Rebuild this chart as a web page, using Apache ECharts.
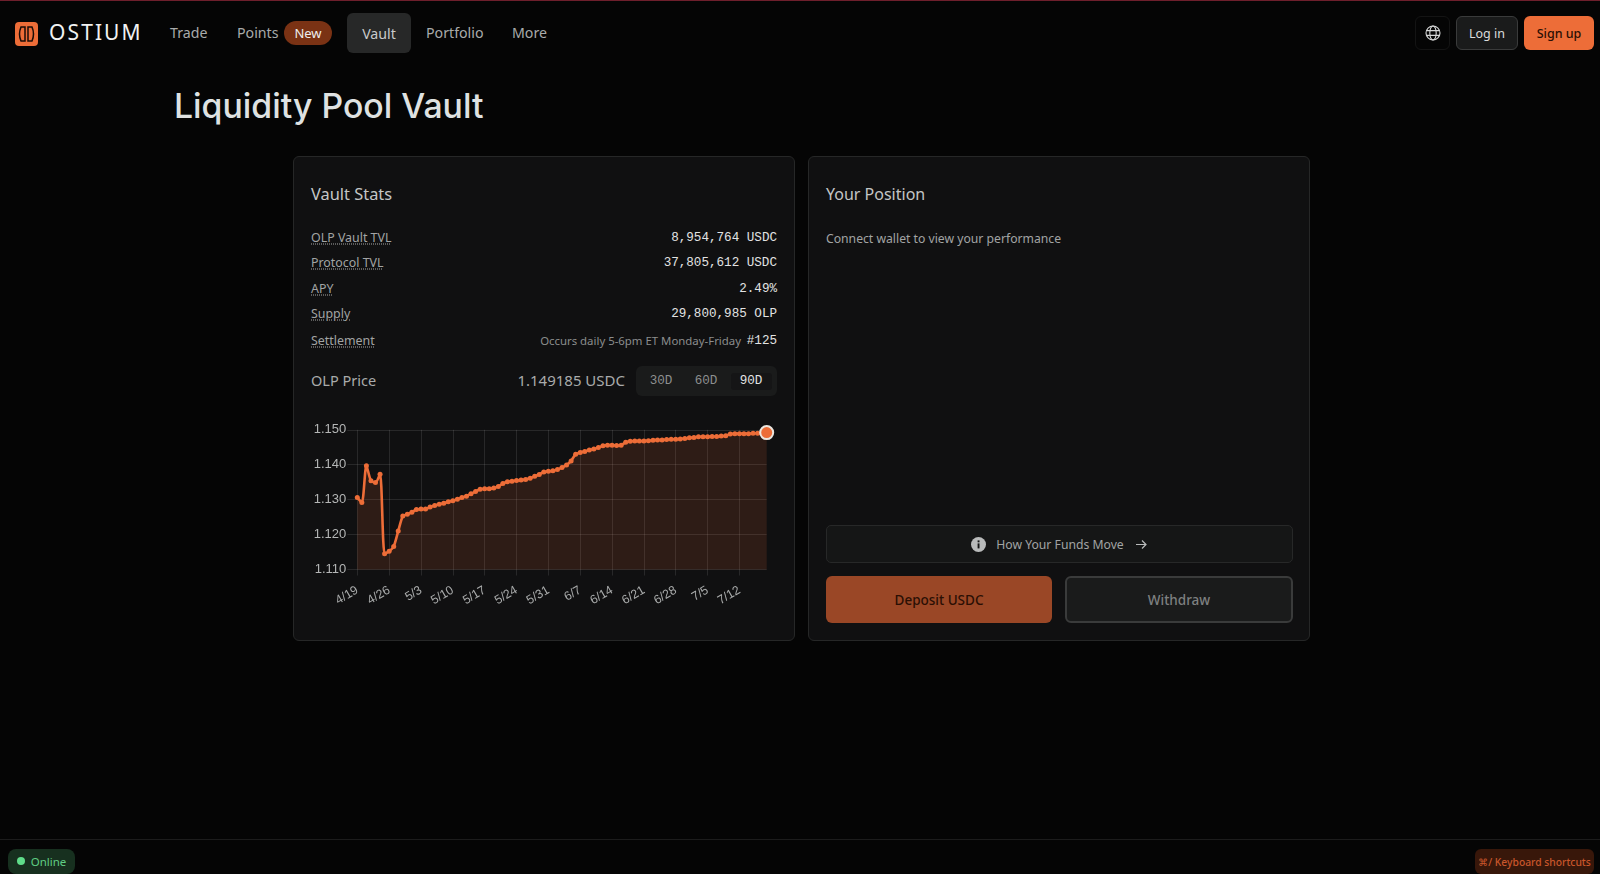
<!DOCTYPE html>
<html>
<head>
<meta charset="utf-8">
<title>Liquidity Pool Vault</title>
<script src="https://cdn.jsdelivr.net/npm/echarts@6/dist/echarts.min.js"></script>
<style>
html, body { margin: 0; padding: 0; background: #050505; width: 1600px; height: 874px; overflow: hidden; font-family: "Noto Sans", sans-serif; color: #c4c6c6; }
.abs { position: absolute; white-space: nowrap; }
.mid { transform: translateY(-50%); }
.box { position: absolute; box-sizing: border-box; display: flex; align-items: center; justify-content: center; white-space: nowrap; }
.card { position: absolute; box-sizing: border-box; top: 156px; width: 502px; height: 485px; background: #101011; border: 1px solid #262727; border-radius: 6px; }
.nav { font-size: 14.2px; color: #a9abab; top: 32px; }
.lbl { left: 311px; font-size: 12.4px; color: #a2a4a4; text-decoration: underline dotted #8a8a8a; text-underline-offset: 2px; }
.mono { right: 823px; font-family: "Liberation Mono", monospace; font-size: 12.6px; color: #e2e3e3; }
.tog { font-family: "Liberation Mono", monospace; font-size: 12.6px; color: #8d8f8f; }
#main { position: absolute; left: 293px; top: 410px; width: 502px; height: 225px; }
</style>
</head>
<body>
<div class="abs" style="left:0;top:0;width:1600px;height:1px;background:#6e1f2c"></div>

<svg class="abs" style="left:15px;top:22px" width="23" height="24" viewBox="0 0 23 24">
  <rect width="23" height="24" rx="4" fill="#ed6d38"/>
  <path d="M6 5 h4 v14 h-4 q-3 -7 0 -14z M17 5 h-4 v14 h4 q3 -7 0 -14z" fill="none" stroke="#1a0d07" stroke-width="1.5"/>
</svg>
<div class="abs mid" style="left:49px;top:32px;font-size:21px;letter-spacing:2.1px;color:#f1f2f2">OSTIUM</div>

<div class="abs mid nav" style="left:170px">Trade</div>
<div class="abs mid nav" style="left:237px">Points</div>
<div class="box" style="left:284px;top:21px;width:48px;height:24px;border-radius:12px;background:#7a3214;color:#eeeeee;font-size:13px">New</div>
<div class="box" style="left:347px;top:13px;width:64px;height:40px;border-radius:6px;background:#272828;color:#c9caca;font-size:14.2px">Vault</div>
<div class="abs mid nav" style="left:426px">Portfolio</div>
<div class="abs mid nav" style="left:512px">More</div>

<div class="box" style="left:1415px;top:16px;width:35px;height:34px;border:1px solid #141414;border-radius:6px">
  <svg width="16" height="16" viewBox="0 0 16 16" fill="none" stroke="#d5d6d6" stroke-width="1.1"><circle cx="8" cy="8" r="7"/><ellipse cx="8" cy="8" rx="3.2" ry="7"/><path d="M1.4 5.6h13.2M1.4 10.4h13.2"/></svg>
</div>
<div class="box" style="left:1456px;top:16px;width:62px;height:34px;border:1px solid #3a3b3b;border-radius:6px;background:#1a1b1b;color:#dcdddd;font-size:12.5px">Log in</div>
<div class="box" style="left:1524px;top:16px;width:70px;height:34px;border-radius:6px;background:#ed6d38;color:#2a0f04;font-size:12.5px;font-weight:500">Sign up</div>

<div class="abs mid" style="left:174px;top:105px;font-family:Inter,sans-serif;font-weight:500;font-size:33.8px;color:#dfe2e2">Liquidity Pool Vault</div>

<div class="card" style="left:293px"></div>
<div class="card" style="left:808px"></div>

<div class="abs mid" style="left:311px;top:193px;font-size:16.4px;color:#c4c6c6">Vault Stats</div>
<div class="abs mid lbl" style="top:237px">OLP Vault TVL</div>
<div class="abs mid lbl" style="top:262px">Protocol TVL</div>
<div class="abs mid lbl" style="top:288px">APY</div>
<div class="abs mid lbl" style="top:313px">Supply</div>
<div class="abs mid lbl" style="top:340px">Settlement</div>
<div class="abs mid mono" style="top:238px">8,954,764 USDC</div>
<div class="abs mid mono" style="top:263px">37,805,612 USDC</div>
<div class="abs mid mono" style="top:289px">2.49%</div>
<div class="abs mid mono" style="top:314px">29,800,985 OLP</div>
<div class="abs mid mono" style="top:341px">#125</div>
<div class="abs mid" style="right:859px;top:340px;font-size:11.4px;color:#8b8d8d">Occurs daily 5-6pm ET Monday-Friday</div>

<div class="abs mid" style="left:311px;top:380px;font-size:14.5px;color:#a9abab">OLP Price</div>
<div class="abs mid" style="right:975px;top:380px;font-size:15px;color:#a9abab">1.149185 USDC</div>
<div class="abs" style="left:636px;top:366px;width:141px;height:30px;border-radius:6px;background:#1a1b1b"></div>
<div class="abs" style="left:731px;top:373px;width:41px;height:17px;border-radius:3px;background:#151516"></div>
<div class="box tog" style="left:641px;top:366px;width:40px;height:30px">30D</div>
<div class="box tog" style="left:686px;top:366px;width:40px;height:30px">60D</div>
<div class="box tog" style="left:731px;top:366px;width:40px;height:30px;color:#e2e3e3">90D</div>

<div id="main"></div>

<div class="abs mid" style="left:826px;top:194px;font-size:16px;color:#c4c6c6">Your Position</div>
<div class="abs mid" style="left:826px;top:238px;font-size:12.2px;color:#a2a4a4">Connect wallet to view your performance</div>

<div class="box" style="left:826px;top:525px;width:467px;height:38px;border:1px solid #272828;border-radius:5px;background:#151616;color:#a2a4a4;font-size:12.2px">
  <svg width="15" height="15" viewBox="0 0 15 15" style="margin-right:10px"><circle cx="7.5" cy="7.5" r="7.5" fill="#b9bbbb"/><rect x="6.6" y="6.4" width="1.9" height="5" fill="#151616"/><rect x="6.6" y="3.4" width="1.9" height="1.9" fill="#151616"/></svg>
  How Your Funds Move
  <svg width="13" height="11" viewBox="0 0 13 11" style="margin-left:11px" fill="none" stroke="#b9bbbb" stroke-width="1.2"><path d="M1 5.5h10M7 1.5l4 4-4 4"/></svg>
</div>
<div class="box" style="left:826px;top:576px;width:226px;height:47px;border-radius:6px;background:#9a4726;color:#2a0f04;font-size:13.5px;font-weight:500">Deposit USDC</div>
<div class="box" style="left:1065px;top:576px;width:228px;height:47px;border:2px solid #3a3b3b;border-radius:6px;background:#1a1b1b;color:#7e8080;font-size:13.5px;font-weight:500">Withdraw</div>

<div class="abs" style="left:0;top:839px;width:1600px;height:1px;background:#1c1c1c"></div>
<div class="box" style="left:8px;top:849px;width:67px;height:25px;border-radius:8px;background:#17301f;color:#5fce84;font-size:11.5px;padding-left:14px">Online</div>
<div class="abs" style="left:17px;top:857px;width:8px;height:8px;border-radius:50%;background:#5fdc8a"></div>
<div class="box" style="left:1475px;top:849px;width:119px;height:25px;border-radius:6px;background:#38170a;color:#c9562a;font-size:10.3px;font-weight:500">⌘/ Keyboard shortcuts</div>

<script>
let dates = [
    '4/19','4/20','4/21','4/22','4/23','4/24','4/25','4/26','4/27','4/28','4/29','4/30',
    '5/1','5/2','5/3','5/4','5/5','5/6','5/7','5/8','5/9','5/10','5/11','5/12','5/13','5/14','5/15','5/16',
    '5/17','5/18','5/19','5/20','5/21','5/22','5/23','5/24','5/25','5/26','5/27','5/28','5/29','5/30','5/31',
    '6/1','6/2','6/3','6/4','6/5','6/6','6/7','6/8','6/9','6/10','6/11','6/12','6/13','6/14','6/15','6/16',
    '6/17','6/18','6/19','6/20','6/21','6/22','6/23','6/24','6/25','6/26','6/27','6/28','6/29','6/30',
    '7/1','7/2','7/3','7/4','7/5','7/6','7/7','7/8','7/9','7/10','7/11','7/12','7/13','7/14','7/15','7/16','7/17','7/18'
];
let olpPrice = [
    1.1306,1.1292,1.1397,1.1354,1.1349,1.1373,1.1145,1.1152,1.1166,1.1210,1.1253,1.1258,1.1264,
    1.1272,1.1273,1.1273,1.1279,1.1283,1.1287,1.1290,1.1294,1.1297,1.1301,1.1306,1.1310,1.1317,
    1.1323,1.1330,1.1331,1.1331,1.1333,1.1338,1.1346,1.1351,1.1353,1.1355,1.1356,1.1358,1.1361,
    1.1367,1.1372,1.1379,1.1381,1.1383,1.1386,1.1392,1.1399,1.1411,1.1430,1.1435,1.1438,1.1442,
    1.1445,1.1449,1.1454,1.1456,1.1456,1.1455,1.1456,1.1464,1.1467,1.1468,1.1468,1.1468,1.1469,
    1.1470,1.1471,1.1471,1.1472,1.1473,1.1473,1.1474,1.1475,1.1477,1.1478,1.1480,1.1480,1.1480,
    1.1481,1.1481,1.1482,1.1483,1.1488,1.1489,1.1489,1.1489,1.1489,1.1490,1.1490,1.1490,1.1492
];

let seriesData = olpPrice.map((v, i) => {
    if (i === olpPrice.length - 1) {
        return {
            value: v,
            symbolSize: 13,
            itemStyle: { color: '#ed6d38', borderColor: '#ece6df', borderWidth: 2 }
        };
    }
    return v;
});

let chart = echarts.init(document.getElementById('main'));
let gridColor = 'rgba(255,255,255,0.1)';
let option = {
    animation: false,
    grid: { left: 64.3, top: 19.8, width: 409.4, height: 139.7 },
    xAxis: {
        type: 'category',
        data: dates,
        boundaryGap: false,
        axisLine: { show: false },
        axisTick: { show: true, interval: 6, length: 6, lineStyle: { color: gridColor } },
        splitLine: { show: true, interval: 6, lineStyle: { color: gridColor, width: 1 } },
        axisLabel: {
            interval: 6,
            rotate: 30,
            margin: 20,
            color: '#a9abab',
            fontSize: 12.3,
            fontFamily: 'Liberation Sans'
        }
    },
    yAxis: {
        type: 'value',
        min: 1.11,
        max: 1.15,
        interval: 0.01,
        axisLine: { show: false },
        axisTick: { show: true, length: 10, lineStyle: { color: gridColor } },
        splitLine: { show: true, lineStyle: { color: gridColor, width: 1 } },
        axisLabel: {
            margin: 11,
            color: '#b4b6b6',
            fontSize: 13,
            fontFamily: 'Liberation Sans',
            formatter: (v) => v.toFixed(3)
        }
    },
    series: [{
        type: 'line',
        data: seriesData,
        smooth: 0.25,
        showSymbol: true,
        showAllSymbol: true,
        symbol: 'circle',
        symbolSize: 5,
        lineStyle: { color: '#ed6d38', width: 2.6 },
        itemStyle: { color: '#ed6d38' },
        areaStyle: { color: 'rgba(237,109,56,0.2)' }
    }]
};
chart.setOption(option);
</script>
</body>
</html>
